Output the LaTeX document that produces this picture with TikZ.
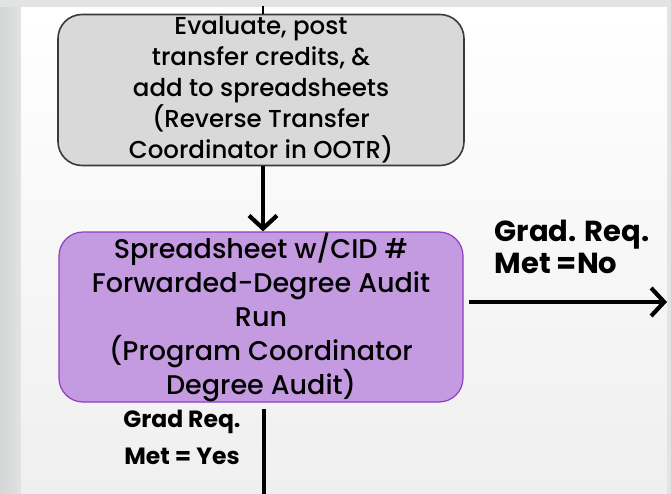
\documentclass[tikz,border=0pt]{standalone}
\usepackage{fontspec}
\setmainfont{Poppins}
\newfontfamily\medfont{Poppins Medium}
\usetikzlibrary{arrows.meta, positioning}
\definecolor{bgGray}{HTML}{E2E3E3}
\definecolor{sideGray}{HTML}{D2D6D6}
\definecolor{panelGray}{HTML}{EFEFEF}
\definecolor{boxGray}{HTML}{D9D9D9}
\definecolor{edgeGray}{HTML}{3A3A3A}
\definecolor{mPurple}{HTML}{C49AE0}
\definecolor{mPurpleEdge}{HTML}{8E3FC4}

\begin{document}
\begin{tikzpicture}[x=1pt, y=-1pt,
    stepbox/.style={rounded corners=24pt, align=center, inner sep=0pt},
    flow/.style={line width=4.2pt, -{Straight Barb[length=13pt,width=28pt]}}]
    % background and panel
    \fill[bgGray] (0,0) rectangle (671,494);
    \shade[left color=sideGray, right color=bgGray] (0,8) rectangle (21,494);
    \shade[top color=white, bottom color=panelGray] (21,8) rectangle (667,494);
    \useasboundingbox (0,0) rectangle (671,494);

    \node[stepbox, draw=edgeGray, line width=1.6pt, fill=boxGray,
          minimum width=406pt, minimum height=151pt,
          font=\medfont\fontsize{24.5}{31}\selectfont] (evaluate) at (261,90)
        {Evaluate, post\\transfer credits, \&\\add to spreadsheets\\(Reverse Transfer\\Coordinator in OOTR)};
    \node[stepbox, draw=mPurpleEdge, line width=1.2pt, fill=mPurple,
          minimum width=404pt, minimum height=170pt,
          font=\medfont\fontsize{27}{34}\selectfont] (audit) at (261,317)
        {Spreadsheet w/CID \#\\Forwarded-Degree Audit\\Run\\(Program Coordinator\\Degree Audit)};

    \node[font=\bfseries\fontsize{29}{32}\selectfont, align=left, anchor=north west]
        (noLabel) at (491,217) {Grad. Req.\\Met =No};
    \node[font=\bfseries\fontsize{23.5}{37}\selectfont, align=center]
        (yesLabel) at (182,437) {Grad Req.\\Met = Yes};

    \coordinate (fromTop) at (263,6);
    \coordinate (noEnd) at (667,302);
    \coordinate (yesEnd) at (264,500);

    \draw[line width=1.6pt] (fromTop) -- (evaluate.north -| fromTop);
    \draw[flow] (evaluate.south -| fromTop) -- (audit.north -| fromTop);
    \draw[flow] ([xshift=5pt]audit.east |- noEnd) -- (noEnd);
    \draw[line width=4.2pt] ([yshift=-6pt]audit.south -| yesEnd) -- (yesEnd);
\end{tikzpicture}
\end{document}
